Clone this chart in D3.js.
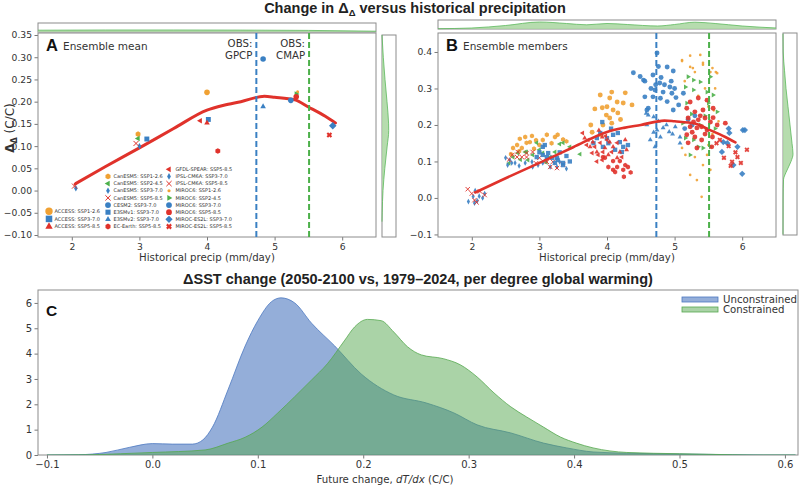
<!DOCTYPE html>
<html>
<head>
<meta charset="utf-8">
<script src="https://cdn.jsdelivr.net/npm/d3@7"></script>
<style>
  body { margin: 0; background: #fff; }
  svg { display: block; }
</style>
</head>
<body>
<div id="chart"></div>
<script>
// ---- ticks ----
const precipTicks = [2, 3, 4, 5, 6];
const aYTicks = [-0.10, -0.05, 0.00, 0.05, 0.10, 0.15, 0.20, 0.25, 0.30, 0.35];
const bYTicks = [-0.1, 0.0, 0.1, 0.2, 0.3, 0.4];
const cXTicks = [-0.1, 0.0, 0.1, 0.2, 0.3, 0.4, 0.5, 0.6];
const cYTicks = [0, 1, 2, 3, 4, 5, 6];

// observed precipitation
const obsGPCP = 4.73;
const obsCMAP = 5.51;

// smoothed fit through ensemble means
const fitX = [2.05, 2.5, 3.0, 3.5, 4.0, 4.25, 4.5, 4.85, 5.0, 5.3, 5.5, 5.75, 5.9];
const fitY = [0.015, 0.054, 0.096, 0.139, 0.181, 0.192, 0.200, 0.212, 0.210, 0.204, 0.188, 0.167, 0.152];

// ensemble means (panel A)
const modelNames = [
  'ACCESS: SSP1-2.6', 'ACCESS: SSP3-7.0', 'ACCESS: SSP5-8.5',
  'CanESM5: SSP1-2.6', 'CanESM5: SSP2-4.5', 'CanESM5: SSP3-7.0', 'CanESM5: SSP5-8.5',
  'CESM2: SSP3-7.0', 'E3SMv1: SSP3-7.0', 'E3SMv2: SSP3-7.0', 'EC-Earth: SSP5-8.5',
  'GFDL-SPEAR: SSP5-8.5', 'IPSL-CM6A: SSP3-7.0', 'IPSL-CM6A: SSP5-8.5',
  'MIROC6: SSP1-2.6', 'MIROC6: SSP2-4.5', 'MIROC6: SSP3-7.0', 'MIROC6: SSP5-8.5',
  'MIROC-ES2L: SSP3-7.0', 'MIROC-ES2L: SSP5-8.5'
];
const meanPrecip = [4.00, 4.02, 4.00, 2.98, 2.98, 3.00, 2.95, 4.83, 3.11, 4.83, 4.16,
                    3.90, 2.06, 2.04, 5.34, 5.32, 5.24, 5.32, 5.86, 5.81];
const meanDelta = [0.221, 0.160, 0.152, 0.127, 0.117, 0.100, 0.106, 0.296, 0.116, 0.189, 0.089,
                   0.157, 0.005, 0.010, 0.222, 0.217, 0.203, 0.211, 0.146, 0.125];

// ensemble members (panel B): [precip, delta]
const accessSsp126 = [[3.76,0.200],[3.82,0.244],[3.90,0.282],[3.93,0.247],[3.94,0.200],[3.99,0.227],[4.00,0.250],[4.04,0.274],[4.04,0.219],[4.07,0.290],[4.07,0.205],[4.09,0.241],[4.15,0.263],[4.16,0.233],[4.24,0.260],[4.27,0.288],[4.37,0.255],[3.78,0.180],[3.91,0.173],[4.20,0.215]];
const accessSsp370 = [[3.85,0.164],[3.90,0.178],[3.93,0.208],[3.94,0.140],[4.00,0.164],[4.06,0.190],[4.09,0.173],[4.12,0.132],[4.16,0.178],[4.19,0.153],[4.22,0.126],[4.24,0.140],[4.31,0.145],[3.80,0.150],[4.02,0.150]];
const accessSsp585 = [[3.67,0.164],[3.75,0.140],[3.79,0.153],[3.85,0.126],[3.93,0.167],[3.97,0.137],[4.02,0.118],[4.04,0.153],[4.09,0.140],[4.15,0.110],[4.19,0.126],[4.27,0.159],[4.29,0.132],[3.88,0.185]];
const canesmSsp126 = [[2.61,0.137],[2.67,0.145],[2.71,0.162],[2.74,0.137],[2.79,0.167],[2.81,0.151],[2.86,0.153],[2.89,0.170],[2.95,0.158],[3.00,0.145],[3.05,0.159],[3.11,0.173],[3.18,0.150],[3.23,0.167],[3.27,0.173],[3.35,0.160],[2.70,0.128],[2.92,0.135],[3.40,0.155],[2.58,0.120]];
const canesmSsp245 = [[2.61,0.112],[2.68,0.123],[2.79,0.126],[2.81,0.126],[2.83,0.104],[2.90,0.118],[2.96,0.151],[3.00,0.132],[3.05,0.123],[3.16,0.112],[3.23,0.126],[3.30,0.148],[3.35,0.151],[3.45,0.140],[2.72,0.105],[3.10,0.098],[3.60,0.120],[2.55,0.095]];
const canesmSsp370 = [[2.50,0.110],[2.56,0.104],[2.59,0.096],[2.64,0.096],[2.70,0.088],[2.79,0.096],[2.89,0.099],[2.90,0.085],[2.98,0.090],[3.05,0.096],[3.16,0.085],[3.26,0.085],[3.30,0.099],[2.53,0.090],[3.40,0.080],[3.10,0.105]];
const canesmSsp585 = [[2.60,0.118],[2.67,0.112],[2.68,0.126],[2.74,0.112],[2.81,0.123],[2.81,0.112],[2.90,0.126],[3.00,0.110],[3.11,0.099],[3.16,0.085],[3.20,0.099],[3.26,0.082],[2.95,0.095],[3.35,0.092],[2.55,0.105]];
const cesm2Ssp370 = [[4.39,0.343],[4.49,0.333],[4.54,0.323],[4.56,0.320],[4.56,0.277],[4.59,0.241],[4.61,0.246],[4.68,0.337],[4.68,0.277],[4.71,0.296],[4.74,0.397],[4.76,0.360],[4.78,0.315],[4.79,0.273],[4.83,0.290],[4.89,0.359],[4.89,0.264],[4.93,0.304],[4.96,0.287],[4.98,0.348],[4.98,0.241],[5.00,0.300],[5.06,0.255],[5.13,0.287],[4.85,0.310],[4.72,0.310],[4.95,0.320],[5.02,0.275],[4.65,0.300],[4.80,0.330]];
const e3smv1Ssp370 = [[2.96,0.112],[3.05,0.118],[3.05,0.140],[3.08,0.145],[3.11,0.112],[3.13,0.123],[3.19,0.110],[3.23,0.096],[3.26,0.110],[3.27,0.104],[3.35,0.096],[3.35,0.090],[3.40,0.115],[3.30,0.125],[3.45,0.100],[3.00,0.125]];
const e3smv2Ssp370 = [[4.58,0.232],[4.59,0.200],[4.61,0.227],[4.64,0.159],[4.69,0.222],[4.69,0.180],[4.71,0.140],[4.74,0.186],[4.79,0.167],[4.83,0.192],[4.92,0.181],[5.01,0.195],[5.08,0.167],[5.08,0.150],[4.88,0.200],[4.97,0.175],[4.76,0.210]];
const ecEarthSsp585 = [[3.94,0.112],[3.97,0.110],[4.02,0.085],[4.09,0.101],[4.09,0.077],[4.12,0.071],[4.15,0.085],[4.19,0.101],[4.24,0.077],[4.25,0.058],[4.27,0.090],[4.31,0.085],[4.35,0.070]];
const gfdlSsp585 = [[3.64,0.178],[3.70,0.145],[3.72,0.159],[3.78,0.123],[3.82,0.140],[3.87,0.118],[3.90,0.151],[3.93,0.104],[3.94,0.126],[4.00,0.159],[4.07,0.126],[4.15,0.151],[4.22,0.112],[3.98,0.170],[3.85,0.100]];
const ipslSsp370 = [[1.95,-0.010],[2.02,0.004],[2.04,-0.014],[2.05,0.020],[2.11,0.005],[2.16,0.000],[2.19,0.012],[2.08,-0.008]];
const ipslSsp585 = [[1.94,0.024],[2.04,-0.006],[2.19,0.008],[2.00,0.012],[2.12,0.018],[2.07,-0.012]];
const miroc6Ssp126 = [[5.11,0.378],[5.23,0.390],[5.27,0.356],[5.42,0.365],[5.56,0.356],[5.61,0.345],[5.38,0.392],[5.42,0.370],[5.11,0.375],[5.23,0.359],[5.53,0.345],[5.30,0.345],[5.63,0.342],[5.60,0.300],[5.50,0.250],[5.58,0.240],[5.11,0.137],[5.50,0.145],[5.30,0.112],[5.48,0.118],[5.16,0.118],[5.23,0.063],[5.33,0.049],[5.42,0.090],[5.53,0.077],[5.40,0.003],[5.20,0.220],[5.45,0.300],[5.15,0.320],[5.56,0.175],[5.35,0.280],[5.65,0.210]];
const miroc6Ssp245 = [[5.16,0.304],[5.20,0.332],[5.28,0.323],[5.38,0.318],[5.53,0.332],[5.28,0.296],[5.48,0.290],[5.57,0.282],[5.18,0.260],[5.50,0.260],[5.63,0.236],[5.38,0.200],[5.16,0.164],[5.28,0.159],[5.35,0.140],[5.23,0.118],[5.42,0.137],[5.53,0.140],[5.25,0.230],[5.45,0.225],[5.60,0.190],[5.12,0.205]];
const miroc6Ssp370 = [[5.20,0.215],[5.26,0.200],[5.15,0.190],[5.30,0.225]];
const miroc6Ssp585 = [[5.23,0.263],[5.35,0.274],[5.48,0.268],[5.18,0.246],[5.30,0.236],[5.42,0.241],[5.57,0.246],[5.20,0.219],[5.28,0.208],[5.35,0.214],[5.45,0.219],[5.53,0.208],[5.23,0.195],[5.33,0.192],[5.40,0.195],[5.48,0.186],[5.63,0.200],[5.18,0.173],[5.30,0.167],[5.40,0.159],[5.56,0.167],[5.33,0.137],[5.20,0.151],[5.75,0.205],[5.55,0.140],[5.57,0.220],[5.38,0.225],[5.45,0.175],[5.26,0.180]];
const mirocEs2lSsp370 = [[5.80,0.190],[5.81,0.178],[6.01,0.186],[6.04,0.186],[5.70,0.126],[5.72,0.153],[5.93,0.140],[5.87,0.090],[6.00,0.066],[5.78,0.150]];
const mirocEs2lSsp585 = [[5.67,0.159],[5.80,0.142],[6.07,0.132],[5.73,0.110],[5.93,0.112],[5.85,0.099],[5.98,0.096],[5.83,0.088],[5.62,0.150],[5.90,0.125]];

const memberSets = [accessSsp126, accessSsp370, accessSsp585, canesmSsp126, canesmSsp245, canesmSsp370, canesmSsp585,
  cesm2Ssp370, e3smv1Ssp370, e3smv2Ssp370, ecEarthSsp585, gfdlSsp585, ipslSsp370, ipslSsp585,
  miroc6Ssp126, miroc6Ssp245, miroc6Ssp370, miroc6Ssp585, mirocEs2lSsp370, mirocEs2lSsp585];

// marginal densities (relative heights)
const topAX = [1.5, 2.5, 3.5, 4.5, 5.5, 6.5];
const topAH = [1.8, 2.0, 2.0, 1.9, 1.6, 0.8];
const topBX = [1.5, 2.0, 2.5, 3.0, 3.4, 3.7, 4.0, 4.3, 4.75, 5.0, 5.3, 5.6, 6.0, 6.5];
const topBH = [0.3, 1.0, 3.5, 7.0, 5.5, 4.2, 5.5, 4.5, 3.0, 4.5, 6.8, 5.5, 3.0, 1.0];
const rightAY = [0.35, 0.30, 0.25, 0.20, 0.15, 0.135, 0.10, 0.05, 0.0, -0.05, -0.07];
const rightAW = [0.0, 1.3, 3.0, 5.0, 6.6, 6.7, 5.2, 2.8, 1.0, 0.2, 0.0];
const rightBY = [0.45, 0.40, 0.35, 0.30, 0.25, 0.20, 0.15, 0.12, 0.10, 0.07, 0.05, 0.0, -0.1];
const rightBW = [0.0, 0.2, 1.5, 3.0, 5.0, 7.0, 9.0, 10.0, 8.0, 3.0, 0.5, 0.1, 0.0];

// panel C densities
const unconX = [-0.10,-0.07,-0.044,-0.022,0.0,0.019,0.038,0.048,0.057,0.072,0.088,0.10,0.113,0.122,0.135,0.151,0.173,0.198,0.229,0.26,0.286,0.308,0.34,0.371,0.393,0.418,0.45,0.50,0.55,0.58,0.61];
const unconY = [0,0.01,0.1,0.3,0.45,0.43,0.43,0.6,1.1,2.6,4.3,5.3,6.05,6.2,6.0,5.2,4.3,3.2,2.37,2.05,1.66,1.19,0.87,0.47,0.28,0.12,0.07,0.04,0.01,0.0,0];
const conX = [-0.10,-0.06,-0.03,0.0,0.05,0.072,0.088,0.104,0.119,0.135,0.151,0.166,0.182,0.192,0.204,0.217,0.229,0.242,0.255,0.276,0.292,0.308,0.324,0.34,0.355,0.371,0.387,0.402,0.418,0.434,0.45,0.50,0.55,0.57,0.61];
const conY = [0,0.01,0.05,0.1,0.2,0.47,0.7,1.1,1.66,2.3,2.96,3.6,4.5,5.06,5.35,5.3,4.85,4.27,3.95,3.8,3.56,3.08,2.45,1.9,1.5,1.1,0.71,0.47,0.28,0.16,0.1,0.05,0.01,0.0,0];

// ---- styles ----
const BLUE = '#3a80c3', ORANGE = '#f0a133', RED = '#e0322b', GREEN = '#4cb04a';
const modelColor = [ORANGE, BLUE, RED, ORANGE, GREEN, BLUE, RED, BLUE, BLUE, BLUE, RED,
                    RED, BLUE, RED, ORANGE, GREEN, BLUE, RED, BLUE, RED];
const modelMarker = ['o', 's', '^', 'h', '<', 'd', 'x', 'o', 's', '^', 'h',
                     '<', 'd', 'x', '.', '>', 'o', 'o', 'D', 'X'];
const legendCols = [[0, 1, 2], [3, 4, 5, 6, 7, 8, 9, 10], [11, 12, 13, 14, 15, 16, 17, 18, 19]];

const font = "'DejaVu Sans', sans-serif";
const boldFont = "'Liberation Sans', Arial, sans-serif";
const spine = '#8c8c8c';
const textCol = '#333';

function markerPath(kind, r) {
  const poly = pts => 'M' + pts.map(p => p[0].toFixed(2) + ',' + p[1].toFixed(2)).join('L') + 'Z';
  const ngon = (n, rot, rad) => d3.range(n).map(i => {
    const a = rot + i * 2 * Math.PI / n;
    return [rad * Math.cos(a), rad * Math.sin(a)];
  });
  const circ = q => `M${q},0A${q},${q},0,1,1,${-q},0A${q},${q},0,1,1,${q},0Z`;
  switch (kind) {
    case 'o': return circ(r);
    case '.': return circ(r * 0.55);
    case 's': { const q = r * 0.88; return poly([[-q, -q], [q, -q], [q, q], [-q, q]]); }
    case '^': return poly(ngon(3, -Math.PI / 2, r * 1.15));
    case '<': return poly(ngon(3, Math.PI, r * 1.15));
    case '>': return poly(ngon(3, 0, r * 1.15));
    case 'h': return poly(ngon(6, -Math.PI / 2, r));
    case 'd': return poly([[0, -r * 1.15], [r * 0.65, 0], [0, r * 1.15], [-r * 0.65, 0]]);
    case 'D': return poly([[0, -r * 1.25], [r * 1.25, 0], [0, r * 1.25], [-r * 1.25, 0]]);
    case 'x': return `M${-r * 0.9},${-r * 0.9}L${r * 0.9},${r * 0.9}M${-r * 0.9},${r * 0.9}L${r * 0.9},${-r * 0.9}`;
    case 'X': {
      const a = r * 0.38, b = r * 1.05;
      const plus = [[-a, -b], [a, -b], [a, -a], [b, -a], [b, a], [a, a], [a, b], [-a, b], [-a, a], [-b, a], [-b, -a], [-a, -a]];
      const c = Math.SQRT1_2;
      return poly(plus.map(([x, y]) => [c * (x - y), c * (x + y)]));
    }
  }
}

function styleMarker(sel, i) {
  if (modelMarker[i] === 'x') {
    sel.attr('fill', 'none').attr('stroke', modelColor[i]).attr('stroke-width', 1);
  } else {
    sel.attr('fill', modelColor[i]).attr('stroke', 'none');
  }
}

const svg = d3.select('#chart').append('svg').attr('width', 800).attr('height', 488)
  .style('font-family', font);

// ---- scales ----
const xA = d3.scaleLinear().domain([1.5, 6.5]).range([38, 376]);
const yA = d3.scaleLinear().domain([-0.1045, 0.3545]).range([237, 33]);
const xB = d3.scaleLinear().domain([1.5, 6.5]).range([438, 776]);
const yB = d3.scaleLinear().domain([-0.107, 0.452]).range([237, 33]);
const xC = d3.scaleLinear().domain([-0.1085, 0.6124]).range([38, 798]);
const yC = d3.scaleLinear().domain([0, 6.51]).range([455, 290]);

function drawAxes(xs, ys, xt, yt, xfmt, yfmt, fs) {
  const [x0, x1] = xs.range(), [y1, y0] = ys.range();
  const gx = svg.append('g').attr('transform', `translate(0,${y1})`)
    .call(d3.axisBottom(xs).tickValues(xt).tickFormat(xfmt).tickSize(3.5).tickPadding(2.5).tickSizeOuter(0));
  const gy = svg.append('g').attr('transform', `translate(${x0},0)`)
    .call(d3.axisLeft(ys).tickValues(yt).tickFormat(yfmt).tickSize(3.5).tickPadding(2.5).tickSizeOuter(0));
  [gx, gy].forEach(g => {
    g.select('.domain').remove();
    g.selectAll('.tick line').attr('stroke', '#555').attr('stroke-width', 0.8);
    g.selectAll('.tick text').attr('fill', textCol).style('font-family', font).style('font-size', fs + 'px');
  });
  svg.append('rect').attr('x', x0).attr('y', y0).attr('width', x1 - x0).attr('height', y1 - y0)
    .attr('fill', 'none').attr('stroke', spine).attr('stroke-width', 1);
}

drawAxes(xA, yA, precipTicks, aYTicks, d3.format('d'), d3.format('.2f'), 9.2);
drawAxes(xB, yB, precipTicks, bYTicks, d3.format('d'), d3.format('.1f'), 9.2);
drawAxes(xC, yC, cXTicks, cYTicks, d3.format('.1f'), d3.format('d'), 10);

// ---- titles ----
const t1 = svg.append('text').attr('x', 415).attr('y', 13).attr('text-anchor', 'middle')
  .style('font-family', boldFont).style('font-weight', 'bold').style('font-size', '14.5px').attr('fill', '#222');
t1.append('tspan').text('Change in Δ');
t1.append('tspan').attr('dy', 3).style('font-size', '9.5px').text('Δ');
t1.append('tspan').attr('dy', -3).text(' versus historical precipitation');

svg.append('text').attr('x', 418).attr('y', 284).attr('text-anchor', 'middle')
  .style('font-family', boldFont).style('font-weight', 'bold').style('font-size', '14.5px').attr('fill', '#222')
  .text('ΔSST change (2050-2100 vs, 1979–2024, per degree global warming)');

// axis labels
[xA, xB].forEach(xs => {
  svg.append('text').attr('x', d3.mean(xs.range())).attr('y', 261).attr('text-anchor', 'middle')
    .style('font-size', '10.2px').attr('fill', textCol).text('Historical precip (mm/day)');
});
const yl = svg.append('text').attr('transform', 'translate(14,128) rotate(-90)').attr('text-anchor', 'middle')
  .style('font-size', '12px').attr('fill', textCol);
yl.append('tspan').style('font-weight', 'bold').text('Δ');
yl.append('tspan').attr('dy', 3).style('font-size', '8px').style('font-weight', 'bold').text('Δ');
yl.append('tspan').attr('dy', -3).text(' (C/C)');

const xl = svg.append('text').attr('x', 385).attr('y', 483).attr('text-anchor', 'middle')
  .style('font-size', '10.2px').attr('fill', textCol);
xl.append('tspan').text('Future change, ');
xl.append('tspan').style('font-style', 'italic').text('dT/dx');
xl.append('tspan').text(' (C/C)');

// panel letters
[['A', 46, 51, 'Ensemble mean', 63], ['B', 446, 51, 'Ensemble members', 463]].forEach(([l, x, y, s, sx]) => {
  svg.append('text').attr('x', x).attr('y', y).style('font-family', boldFont).style('font-weight', 'bold')
    .style('font-size', '16.5px').attr('fill', '#111').text(l);
  svg.append('text').attr('x', sx).attr('y', y - 1.5).style('font-size', '10.5px').attr('fill', textCol).text(s);
});
svg.append('text').attr('x', 46).attr('y', 316).style('font-family', boldFont).style('font-weight', 'bold')
  .style('font-size', '15.5px').attr('fill', '#111').text('C');

// ---- marginal densities ----
const margFill = '#a9d6a0', margLine = '#5cb85c';
function margTop(xs, xv, hv, yBot, yTop) {
  svg.append('rect').attr('x', xs.range()[0]).attr('y', yTop).attr('width', xs.range()[1] - xs.range()[0])
    .attr('height', yBot - yTop).attr('fill', 'none').attr('stroke', spine).attr('stroke-width', 1);
  const pts = xv.map((v, i) => [v, hv[i]]);
  svg.append('path').datum(pts)
    .attr('d', d3.area().curve(d3.curveMonotoneX).x(d => xs(d[0])).y0(yBot).y1(d => yBot - d[1]))
    .attr('fill', margFill).attr('opacity', 0.85);
  svg.append('path').datum(pts)
    .attr('d', d3.line().curve(d3.curveMonotoneX).x(d => xs(d[0])).y(d => yBot - d[1]))
    .attr('fill', 'none').attr('stroke', margLine).attr('stroke-width', 0.8);
}
function margRight(ys, yv, wv, xLeft, xRight, yTop, yBot) {
  svg.append('rect').attr('x', xLeft).attr('y', yTop).attr('width', xRight - xLeft).attr('height', yBot - yTop)
    .attr('fill', 'none').attr('stroke', spine).attr('stroke-width', 1);
  const pts = yv.map((v, i) => [v, wv[i]]);
  svg.append('path').datum(pts)
    .attr('d', d3.area().curve(d3.curveMonotoneY).y(d => ys(d[0])).x0(xLeft).x1(d => xLeft + d[1]))
    .attr('fill', margFill).attr('opacity', 0.85);
  svg.append('path').datum(pts)
    .attr('d', d3.line().curve(d3.curveMonotoneY).y(d => ys(d[0])).x(d => xLeft + d[1]))
    .attr('fill', 'none').attr('stroke', margLine).attr('stroke-width', 0.8);
}
margTop(xA, topAX, topAH, 32, 23);
margTop(xB, topBX, topBH, 29, 20);
margRight(yA, rightAY, rightAW, 382, 396, 35, 237);
margRight(yB, rightBY, rightBW, 783, 797, 33, 235);

// ---- panel B points ----
const gB = svg.append('g');
memberSets.forEach((set, i) => {
  const p = gB.selectAll(null).data(set).join('path')
    .attr('transform', d => `translate(${xB(d[0])},${yB(d[1])})`)
    .attr('d', markerPath(modelMarker[i], modelMarker[i] === 'D' ? 2.5 : 2.45))
    .attr('opacity', 0.9);
  styleMarker(p, i);
});

// fit curves
const fitPts = fitX.map((v, i) => [v, fitY[i]]);
[[xA, yA, 3], [xB, yB, 2.6]].forEach(([xs, ys, w]) => {
  svg.append('path').datum(fitPts)
    .attr('d', d3.line().curve(d3.curveMonotoneX).x(d => xs(d[0])).y(d => ys(d[1])))
    .attr('fill', 'none').attr('stroke', RED).attr('stroke-width', w).attr('stroke-linecap', 'round');
});

// ---- panel A means ----
const gA = svg.append('g');
modelNames.forEach((name, i) => {
  const p = gA.append('path')
    .attr('transform', `translate(${xA(meanPrecip[i])},${yA(meanDelta[i])})`)
    .attr('d', markerPath(modelMarker[i], modelMarker[i] === 'D' ? 3.0 : 2.8));
  styleMarker(p, i);
});

// observation lines
[[xA, yA], [xB, yB]].forEach(([xs, ys]) => {
  [[obsGPCP, BLUE], [obsCMAP, GREEN]].forEach(([v, c]) => {
    svg.append('line').attr('x1', xs(v)).attr('x2', xs(v)).attr('y1', ys.range()[1]).attr('y2', ys.range()[0])
      .attr('stroke', c).attr('stroke-width', 2).attr('stroke-dasharray', '6,3');
  });
});
[[obsGPCP, 'GPCP'], [obsCMAP, 'CMAP']].forEach(([v, s]) => {
  const t = svg.append('text').attr('x', xA(v) - 4).attr('y', 47).attr('text-anchor', 'end')
    .style('font-size', '10.2px').attr('fill', textCol);
  t.append('tspan').attr('x', xA(v) - 4).text('OBS:');
  t.append('tspan').attr('x', xA(v) - 4).attr('dy', 12).text(s);
});

// legend in A
const legX = [[49, 54.5], [108, 113.5], [169, 175.5]];
const legR = [3.7, 2.9, 2.9];
const legStep = [7.6, 7.15, 7.15];
legendCols.forEach((col, c) => {
  col.forEach((idx, k) => {
    const y = 226.5 - (col.length - 1 - k) * legStep[c];
    const p = svg.append('path').attr('transform', `translate(${legX[c][0]},${y})`)
      .attr('d', markerPath(modelMarker[idx], legR[c]));
    styleMarker(p, idx);
    svg.append('text').attr('x', legX[c][1]).attr('y', y + 1.7).style('font-size', '5px')
      .attr('fill', textCol).text(modelNames[idx]);
  });
});

// ---- panel C ----
const unconPts = unconX.map((v, i) => [v, unconY[i]]);
const conPts = conX.map((v, i) => [v, conY[i]]);
const clipC = svg.append('clipPath').attr('id', 'clipC');
clipC.append('rect').attr('x', 38).attr('y', 290).attr('width', 760).attr('height', 165);
const gC = svg.append('g').attr('clip-path', 'url(#clipC)');
const areaC = d3.area().curve(d3.curveMonotoneX).x(d => xC(d[0])).y0(yC(0)).y1(d => yC(d[1]));
const lineC = d3.line().curve(d3.curveMonotoneX).x(d => xC(d[0])).y(d => yC(d[1]));
gC.append('path').datum(unconPts).attr('d', areaC).attr('fill', '#4c78c0').attr('fill-opacity', 0.6);
gC.append('path').datum(unconPts).attr('d', lineC).attr('fill', 'none').attr('stroke', '#4c78c0').attr('stroke-width', 0.8);
gC.append('path').datum(conPts).attr('d', areaC).attr('fill', '#55a84f').attr('fill-opacity', 0.5);
gC.append('path').datum(conPts).attr('d', lineC).attr('fill', 'none').attr('stroke', '#55a84f').attr('stroke-width', 0.8);

// legend in C
[['Unconstrained', '#4c78c0', 0.6, 297], ['Constrained', '#55a84f', 0.5, 307]].forEach(([s, c, o, y]) => {
  svg.append('rect').attr('x', 682).attr('y', y).attr('width', 36).attr('height', 5)
    .attr('fill', c).attr('fill-opacity', o).attr('stroke', c).attr('stroke-width', 0.8);
  svg.append('text').attr('x', 723).attr('y', y + 6).style('font-size', '10.2px').attr('fill', textCol).text(s);
});
</script>
</body>
</html>
